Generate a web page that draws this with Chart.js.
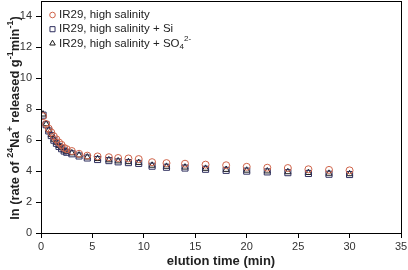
<!DOCTYPE html>
<html lang="en">
<head>
<meta charset="UTF-8">
<title>Na elution</title>
<script src="https://cdn.jsdelivr.net/npm/chart.js"></script>
<style>
  body { margin: 0; background: #fff; }
</style>
</head>
<body>
<canvas id="myChart" width="408" height="270"></canvas>
<script>
// elution times (min)
const times = [0.2, 0.5, 0.75, 1, 1.25, 1.5, 1.75, 2, 2.25, 2.5, 3, 3.7, 4.5, 5.5, 6.6, 7.5, 8.5, 9.5, 10.8, 12.2, 14, 16, 18, 20, 22, 24, 26, 28, 30];
// ln rate values
const highSalinity = [7.55, 7.05, 6.75, 6.5, 6.25, 6.05, 5.85, 5.7, 5.5, 5.42, 5.3, 5.12, 5.0, 4.95, 4.9, 4.85, 4.82, 4.78, 4.58, 4.52, 4.48, 4.42, 4.38, 4.28, 4.22, 4.2, 4.12, 4.08, 4.05];
const highSalinitySi = [7.62, 7.0, 6.6, 6.3, 6.0, 5.8, 5.6, 5.45, 5.3, 5.22, 5.12, 4.98, 4.85, 4.75, 4.68, 4.6, 4.55, 4.5, 4.32, 4.25, 4.2, 4.12, 4.05, 4.0, 3.95, 3.9, 3.85, 3.8, 3.78];
const highSalinitySO4 = [7.68, 7.05, 6.65, 6.35, 6.05, 5.85, 5.65, 5.5, 5.35, 5.27, 5.17, 5.03, 4.9, 4.8, 4.72, 4.65, 4.6, 4.55, 4.37, 4.3, 4.25, 4.17, 4.1, 4.05, 4.0, 3.95, 3.9, 3.85, 3.82];

const xTicks = [0, 5, 10, 15, 20, 25, 30, 35];
const yTicks = [0, 2, 4, 6, 8, 10, 12, 14];

const toPoints = (ys) => ys.map((y, i) => ({ x: times[i], y: y }));

// text pieces: s=1 superscript, s=-1 subscript
const yTitle = [
  { t: 'ln (rate of ', s: 0 }, { t: '24', s: 1 }, { t: 'Na', s: 0 }, { t: '+', s: 1 },
  { t: ' released g', s: 0 }, { t: '-1', s: 1 }, { t: 'min', s: 0 }, { t: '-1', s: 1 }, { t: ')', s: 0 }
];
const xTitle = [{ t: 'elution time (min)', s: 0 }];
const legendLabels = [
  [{ t: 'IR29, high salinity', s: 0 }],
  [{ t: 'IR29, high salinity + Si', s: 0 }],
  [{ t: 'IR29, high salinity + SO', s: 0 }, { t: '4', s: -1 }, { t: '2-', s: 1 }]
];

const FONT = 'Arial, "Liberation Sans", sans-serif';

function drawRich(ctx, parts, size, weight) {
  const small = Math.round(size * 0.68);
  let w = 0;
  parts.forEach(p => {
    ctx.font = weight + ' ' + (p.s ? small : size) + 'px ' + FONT;
    p.w = ctx.measureText(p.t).width;
    w += p.w;
  });
  let x = -w / 2;
  parts.forEach(p => {
    ctx.font = weight + ' ' + (p.s ? small : size) + 'px ' + FONT;
    const dy = p.s === 1 ? -size * 0.38 : (p.s === -1 ? size * 0.3 : 0);
    ctx.fillText(p.t, x, dy);
    x += p.w;
  });
}

const framePlugin = {
  id: 'frame',
  beforeDraw(chart) {
    const ctx = chart.ctx;
    ctx.save();
    ctx.fillStyle = '#fff';
    ctx.fillRect(0, 0, chart.width, chart.height);
    ctx.restore();
  },
  afterDraw(chart) {
    const { ctx, chartArea: a } = chart;
    ctx.save();
    ctx.strokeStyle = '#000';
    ctx.lineWidth = 1;
    ctx.strokeRect(a.left + 0.5, a.top + 0.5, a.right - a.left, a.bottom - a.top);

    ctx.fillStyle = '#222';
    ctx.textBaseline = 'middle';
    ctx.textAlign = 'left';
    // y title
    ctx.save();
    ctx.translate(15, (a.top + a.bottom) / 2 + 1);
    ctx.rotate(-Math.PI / 2);
    drawRich(ctx, yTitle, 12.8, 'bold');
    ctx.restore();
    // x title
    ctx.save();
    ctx.translate((a.left + a.right) / 2, 261);
    drawRich(ctx, xTitle, 13, 'bold');
    ctx.restore();

    // legend
    chart.data.datasets.forEach((ds, i) => {
      const y = 15 + i * 14.2;
      ctx.strokeStyle = ds.borderColor;
      ctx.fillStyle = 'rgba(0,0,0,0)';
      ctx.lineWidth = 1;
      Chart.helpers.drawPoint(ctx, {
        pointStyle: ds.pointStyle, radius: ds.legendRadius, borderWidth: 1
      }, 52.5, y);
      ctx.fillStyle = '#222';
      let x = 59;
      legendLabels[i].forEach(p => {
        const size = p.s ? 8 : 11.5;
        ctx.font = size + 'px ' + FONT;
        const dy = p.s === 1 ? -4.5 : (p.s === -1 ? 3.5 : 0);
        ctx.fillText(p.t, x, y + dy);
        x += ctx.measureText(p.t).width;
      });
    });
    ctx.restore();
  }
};

const ctx = document.getElementById('myChart');
new Chart(ctx, {
  type: 'scatter',
  data: {
    datasets: [
      {
        label: 'IR29, high salinity',
        data: toPoints(highSalinity),
        pointStyle: 'circle',
        pointRadius: 3.5,
        legendRadius: 2.8,
        borderColor: '#d0644a',
        backgroundColor: 'rgba(0,0,0,0)',
        pointBorderWidth: 1
      },
      {
        label: 'IR29, high salinity + Si',
        data: toPoints(highSalinitySi),
        pointStyle: 'rect',
        pointRadius: 4.3,
        legendRadius: 3.6,
        borderColor: '#2f2f5e',
        backgroundColor: 'rgba(0,0,0,0)',
        pointBorderWidth: 1
      },
      {
        label: 'IR29, high salinity + SO4 2-',
        data: toPoints(highSalinitySO4),
        pointStyle: 'triangle',
        pointRadius: 3.6,
        legendRadius: 3.2,
        borderColor: '#1a1a1a',
        backgroundColor: 'rgba(0,0,0,0)',
        pointBorderWidth: 1
      }
    ]
  },
  options: {
    responsive: false,
    animation: false,
    devicePixelRatio: 1,
    layout: { autoPadding: false, padding: { top: 1, right: 7, left: 0, bottom: 0 } },
    plugins: {
      legend: { display: false },
      tooltip: { enabled: false }
    },
    scales: {
      x: {
        type: 'linear',
        min: 0,
        max: 35,
        afterBuildTicks: s => { s.ticks = xTicks.map(v => ({ value: v })); },
        afterFit: s => { s.height = 37; s.paddingLeft = 0; s.paddingRight = 0; },
        ticks: { color: '#333', padding: 2, font: { size: 11, family: FONT } },
        grid: { drawOnChartArea: false, tickLength: 5, color: '#000' },
        border: { color: '#000' }
      },
      y: {
        min: 0,
        max: 15,
        afterBuildTicks: s => { s.ticks = yTicks.map(v => ({ value: v })); },
        afterFit: s => { s.width = 41; s.paddingTop = 0; s.paddingBottom = 0; },
        ticks: { color: '#333', padding: 4, font: { size: 11, family: FONT } },
        grid: { drawOnChartArea: false, tickLength: 5, color: '#000' },
        border: { color: '#000' }
      }
    }
  },
  plugins: [framePlugin]
});
</script>
</body>
</html>
